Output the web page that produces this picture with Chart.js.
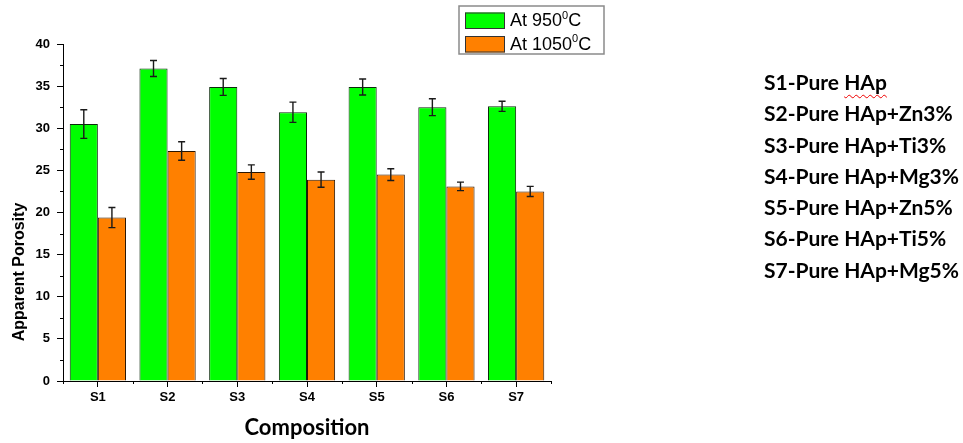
<!DOCTYPE html>
<html><head><meta charset="utf-8">
<script src="https://cdn.jsdelivr.net/npm/chart.js@4/dist/chart.umd.min.js"></script>
<style>
html,body{margin:0;padding:0;background:#fff;}
#wrap{position:relative;width:963px;height:443px;overflow:hidden;}
canvas{position:absolute;left:0;top:0;}
#key{position:absolute;left:764px;top:66px;font-family:Lato,"Open Sans",sans-serif;font-weight:bold;font-size:21px;line-height:31.3px;color:#000;}
#key div{white-space:nowrap;}
.sp{text-decoration:underline wavy #e00;text-decoration-thickness:1px;text-underline-offset:4px;}
</style></head>
<body><div id="wrap"><canvas id="c" width="963" height="443"></canvas><div id="key"></div></div>
<script>
// ---- data ----
const categories = ['S1', 'S2', 'S3', 'S4', 'S5', 'S6', 'S7'];
const seriesLabels = ['At 950⁰C', 'At 1050⁰C'];
const values950 = [30.5, 37.1, 34.9, 31.9, 34.9, 32.5, 32.6];
const errors950 = [1.7, 0.95, 1.0, 1.2, 0.95, 1.0, 0.6];
const values1050 = [19.4, 27.3, 24.8, 23.9, 24.5, 23.1, 22.5];
const errors1050 = [1.2, 1.1, 0.85, 0.9, 0.7, 0.5, 0.6];
const yMin = 0, yMax = 40, yStep = 5;
const keyLabels = ['S1-Pure HAp', 'S2-Pure HAp+Zn3%', 'S3-Pure HAp+Ti3%', 'S4-Pure HAp+Mg3%', 'S5-Pure HAp+Zn5%', 'S6-Pure HAp+Ti5%', 'S7-Pure HAp+Mg5%'];
const xTitle = 'Composition';
const yTitle = 'Apparent Porosity';

// ---- key text (right side) ----
const key = document.getElementById('key');
keyLabels.forEach((t, i) => {
  const d = document.createElement('div');
  if (i === 0) {
    const idx = t.lastIndexOf('HAp');
    d.appendChild(document.createTextNode(t.slice(0, idx)));
    const s = document.createElement('span'); s.className = 'sp'; s.textContent = 'HAp';
    d.appendChild(s);
  } else d.textContent = t;
  key.appendChild(d);
});

const AX_FONT = '"Liberation Sans", Arial, sans-serif';

const errorBars = {
  id: 'errorBars',
  afterDatasetsDraw(chart) {
    const ctx = chart.ctx, y = chart.scales.y;
    ctx.save();
    ctx.strokeStyle = '#1a1a1a'; ctx.lineWidth = 1.4;
    chart.data.datasets.forEach((ds, di) => {
      const meta = chart.getDatasetMeta(di);
      meta.data.forEach((el, i) => {
        const v = ds.data[i], e = ds.errors[i];
        const yt = y.getPixelForValue(v + e), yb = y.getPixelForValue(v - e);
        const x = el.x, cw = 3.5;
        ctx.beginPath();
        ctx.moveTo(x, yt); ctx.lineTo(x, yb);
        ctx.moveTo(x - cw, yt); ctx.lineTo(x + cw, yt);
        ctx.moveTo(x - cw, yb); ctx.lineTo(x + cw, yb);
        ctx.stroke();
      });
    });
    ctx.restore();
  }
};

const extras = {
  id: 'extras',
  afterDraw(chart) {
    const ctx = chart.ctx, ca = chart.chartArea, xs = chart.scales.x, ys = chart.scales.y;
    ctx.save();
    // minor ticks
    ctx.strokeStyle = '#000'; ctx.lineWidth = 1;
    ctx.beginPath();
    for (let v = yMin + yStep / 2; v < yMax; v += yStep) {
      const py = Math.round(ys.getPixelForValue(v)) + 0.5;
      ctx.moveTo(ca.left, py); ctx.lineTo(ca.left - 3, py);
    }
    const n = categories.length;
    for (let i = 0; i <= n; i++) {
      const px = Math.round(xs.getPixelForValue(i - 0.5)) + 0.5;
      ctx.moveTo(px, ca.bottom); ctx.lineTo(px, ca.bottom + 3);
    }
    ctx.stroke();
    // y title
    ctx.fillStyle = '#000';
    ctx.font = 'bold 16px ' + AX_FONT;
    ctx.textAlign = 'center'; ctx.textBaseline = 'middle';
    ctx.translate(20, ca.bottom - 109);
    ctx.rotate(-Math.PI / 2);
    ctx.fillText(yTitle, 0, 0);
    ctx.restore();

    // legend
    ctx.save();
    const bx = ca.left + 396, by = 6, bw = 145, bh = 48;
    ctx.fillStyle = '#fff'; ctx.fillRect(bx, by, bw, bh);
    ctx.strokeStyle = '#8a8a8a'; ctx.lineWidth = 1.5;
    ctx.strokeRect(bx, by, bw, bh);
    chart.data.datasets.forEach((ds, i) => {
      const sy = by + 6.5 + i * 23.5;
      ctx.fillStyle = ds.backgroundColor;
      ctx.fillRect(bx + 6, sy, 40, 16.5);
      ctx.strokeStyle = '#333'; ctx.lineWidth = 1;
      ctx.strokeRect(bx + 6.5, sy + 0.5, 39, 15.5);
      const parts = ds.label.split('⁰');
      let tx = bx + 51; const ty = sy + 9;
      ctx.fillStyle = '#000'; ctx.textBaseline = 'middle'; ctx.textAlign = 'left';
      ctx.font = '18px ' + AX_FONT;
      ctx.fillText(parts[0], tx, ty); tx += ctx.measureText(parts[0]).width;
      if (parts.length > 1) {
        ctx.font = '11px ' + AX_FONT;
        ctx.fillText('0', tx, ty - 6); tx += ctx.measureText('0').width;
        ctx.font = '18px ' + AX_FONT;
        ctx.fillText(parts[1], tx, ty);
      }
    });
    ctx.restore();
  }
};

new Chart(document.getElementById('c'), {
  type: 'bar',
  data: {
    labels: categories,
    datasets: [
      { label: seriesLabels[0], data: values950, errors: errors950, backgroundColor: '#00ff00', borderColor: '#0b2a0b', borderWidth: 1 },
      { label: seriesLabels[1], data: values1050, errors: errors1050, backgroundColor: '#ff8000', borderColor: '#2a1500', borderWidth: 1 }
    ]
  },
  options: {
    responsive: false, animation: false,
    layout: { padding: { top: 44, right: 412, left: 0, bottom: 0 } },
    datasets: { bar: { categoryPercentage: 0.807, barPercentage: 1 } },
    plugins: { legend: { display: false }, tooltip: { enabled: false } },
    scales: {
      x: {
        type: 'category', offset: true,
        grid: { offset: false, drawOnChartArea: false, drawTicks: true, tickLength: 6, tickColor: '#000', tickWidth: 1 },
        border: { display: true, color: '#000', width: 1 },
        ticks: { color: '#000', font: { family: AX_FONT, size: 13, weight: 'bold' }, padding: 3, maxRotation: 0 },
        title: { display: true, text: xTitle, color: '#000', font: { family: 'Lato, "Open Sans", sans-serif', size: 22, weight: 'bold' }, padding: { top: 0, bottom: 2 } },
        afterFit(s) { s.height = 62; }
      },
      y: {
        min: yMin, max: yMax,
        grid: { drawOnChartArea: false, drawTicks: true, tickLength: 6, tickColor: '#000', tickWidth: 1 },
        border: { display: true, color: '#000', width: 1 },
        ticks: { stepSize: yStep, color: '#000', font: { family: AX_FONT, size: 13, weight: 'bold' }, padding: 7 },
        title: { display: false },
        afterFit(s) { s.width = 63; }
      }
    }
  },
  plugins: [errorBars, extras]
});
</script>
</body></html>
